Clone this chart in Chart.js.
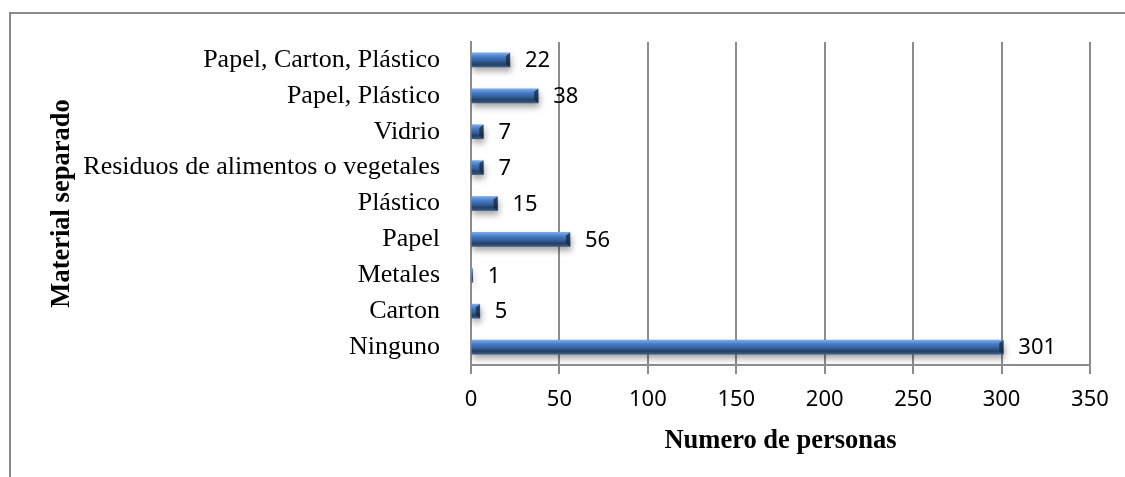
<!DOCTYPE html>
<html>
<head>
<meta charset="utf-8">
<script src="https://cdn.jsdelivr.net/npm/chart.js@4.4.1/dist/chart.umd.min.js"></script>
<style>
  html, body { margin: 0; padding: 0; background: #ffffff; }
  #wrap { position: relative; width: 1125px; height: 477px; }
</style>
</head>
<body>
<div id="wrap"><canvas id="c" width="1125" height="477"></canvas></div>
<script>
const categories = [
  "Papel, Carton, Plástico",
  "Papel, Plástico",
  "Vidrio",
  "Residuos de alimentos o vegetales",
  "Plástico",
  "Papel",
  "Metales",
  "Carton",
  "Ninguno"
];
const values = [22, 38, 7, 7, 15, 56, 1, 5, 301];
const xTicks = [0, 50, 100, 150, 200, 250, 300, 350];
const xTitle = "Numero de personas";
const yTitle = "Material separado";

const frame = {
  id: 'frame',
  beforeDraw(chart) {
    const ctx = chart.ctx;
    ctx.save();
    ctx.fillStyle = '#ffffff';
    ctx.fillRect(0, 0, chart.width, chart.height);
    ctx.fillStyle = '#8a8a8a';
    ctx.fillRect(9, 12, 2, chart.height - 12);
    ctx.fillRect(9, 12, chart.width - 9, 2);
    ctx.restore();
  }
};

const shadow = {
  id: 'shadow',
  beforeDatasetDraw(chart) {
    const ctx = chart.ctx;
    ctx.save();
    ctx.shadowColor = 'rgba(0,0,0,0.35)';
    ctx.shadowBlur = 6;
    ctx.shadowOffsetX = 1;
    ctx.shadowOffsetY = 4;
  },
  afterDatasetDraw(chart) {
    chart.ctx.restore();
    const ctx = chart.ctx;
    const meta = chart.getDatasetMeta(0);
    ctx.save();
    meta.data.forEach((bar) => {
      const w = bar.x - bar.base;
      if (w < 6) return;
      const h = bar.height;
      const top = bar.y - h / 2, bottom = bar.y + h / 2;
      ctx.fillStyle = 'rgba(20,40,70,0.75)';
      ctx.beginPath();
      ctx.moveTo(bar.x - 4, top + 3);
      ctx.lineTo(bar.x, top);
      ctx.lineTo(bar.x, bottom);
      ctx.lineTo(bar.x - 4, bottom - 3);
      ctx.closePath();
      ctx.fill();
    });
    ctx.restore();
  }
};

const labels = {
  id: 'valueLabels',
  afterDatasetsDraw(chart) {
    const ctx = chart.ctx;
    const meta = chart.getDatasetMeta(0);
    ctx.save();
    ctx.fillStyle = '#000000';
    ctx.font = '22px "Noto Sans"';
    ctx.textAlign = 'left';
    ctx.textBaseline = 'middle';
    meta.data.forEach((bar, i) => {
      ctx.fillText(String(values[i]), bar.x + 15, bar.y + 1);
    });
    ctx.restore();
  }
};

function barFill(context) {
  const chart = context.chart;
  const ys = chart.scales && chart.scales.y;
  if (!ys || context.dataIndex === undefined) return '#3c6fb4';
  const c = ys.getPixelForValue(context.dataIndex);
  if (!isFinite(c)) return '#3c6fb4';
  const g = chart.ctx.createLinearGradient(0, c - 7, 0, c + 7);
  g.addColorStop(0, '#7aaae8');
  g.addColorStop(0.3, '#4479c4');
  g.addColorStop(0.55, '#3462a0');
  g.addColorStop(0.8, '#253f63');
  g.addColorStop(1, '#3b5c88');
  return g;
}

new Chart(document.getElementById('c'), {
  type: 'bar',
  data: {
    labels: categories,
    datasets: [{
      data: values,
      backgroundColor: barFill,
      borderWidth: 0,
      barThickness: 14
    }]
  },
  plugins: [frame, shadow, labels],
  options: {
    indexAxis: 'y',
    responsive: false,
    animation: false,
    layout: { padding: { top: 42, right: 35, bottom: 0, left: 0 } },
    plugins: { legend: { display: false }, tooltip: { enabled: false } },
    scales: {
      x: {
        min: 0,
        max: 350,
        afterBuildTicks(scale) { scale.ticks = xTicks.map(v => ({ value: v })); },
        afterFit(scale) { scale.height = 112; },
        grid: { color: '#8c8c8c', lineWidth: 2, tickLength: 9, drawTicks: true },
        border: { display: true, color: '#8c8c8c', width: 2 },
        ticks: {
          color: '#000000',
          font: { family: 'Noto Sans', size: 22 },
          padding: 13,
          maxRotation: 0
        },
        title: {
          display: true,
          text: xTitle,
          color: '#000000',
          font: { family: 'Liberation Serif', size: 26.5, weight: 'bold' },
          padding: { top: 0, bottom: 20 }
        }
      },
      y: {
        afterFit(scale) { scale.width = 471; },
        grid: { display: false },
        border: { display: true, color: '#8c8c8c', width: 2 },
        ticks: {
          color: '#000000',
          font: { family: 'Liberation Serif', size: 26 },
          padding: 23,
          autoSkip: false
        },
        title: {
          display: true,
          text: yTitle,
          color: '#000000',
          font: { family: 'Liberation Serif', size: 26.5, weight: 'bold' },
          padding: { top: 46, bottom: 0 }
        }
      }
    }
  }
});
</script>
</body>
</html>
